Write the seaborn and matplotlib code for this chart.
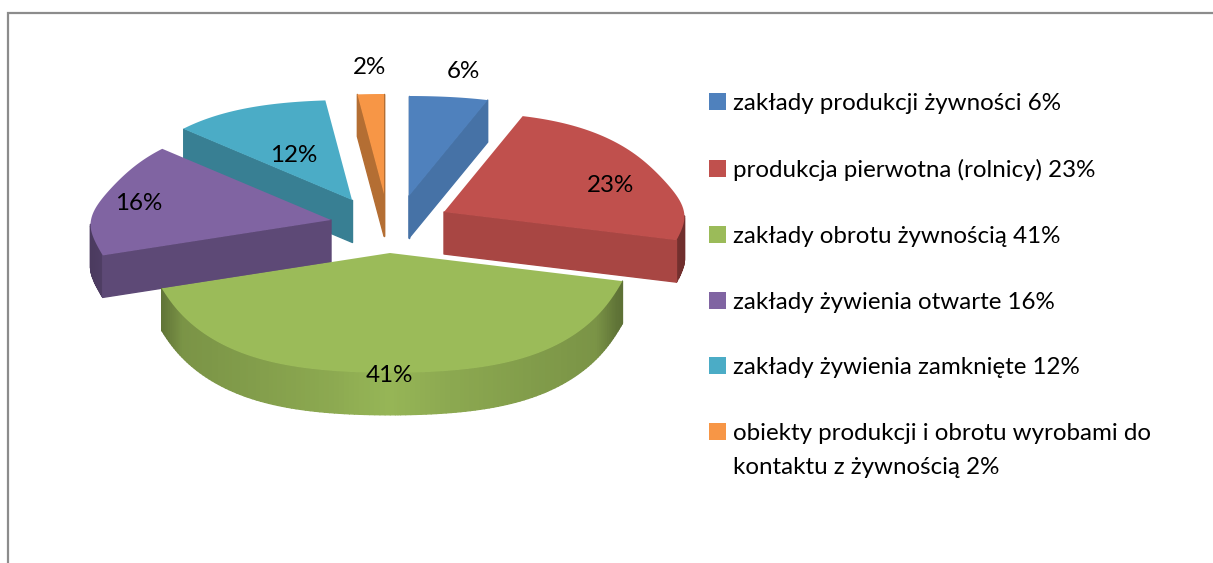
#!/usr/bin/env python3
# coding: utf-8

import numpy as np
import matplotlib
matplotlib.use('Agg')
import matplotlib.pyplot as plt
import seaborn as sns
from matplotlib.collections import PolyCollection
from matplotlib.patches import Patch, Polygon
from matplotlib.transforms import Affine2D

# data
labels = ['zakłady produkcji żywności 6%',
          'produkcja pierwotna (rolnicy) 23%',
          'zakłady obrotu żywnością 41%',
          'zakłady żywienia otwarte 16%',
          'zakłady żywienia zamknięte 12%',
          'obiekty produkcji i obrotu wyrobami do\nkontaktu z żywnością 2%']
shares = [6, 23, 41, 16, 12, 2]
hex_colors = ['#4F81BD', '#C0504D', '#9BBB59', '#8064A2', '#4BACC6', '#F79646']

# look of the fake 3d pie, all in pixels
apex = [(409, 196), (444, 212), (390, 253), (331, 220), (352, 200), (384, 194)]
side_shade = [0.88, 0.875, 0.8, 0.73, 0.74, 0.73]
pct_pos = [(463, 72), (610, 186), (389, 376), (139, 204), (294, 155), (369, 68)]
draw_order = [4, 5, 0, 3, 1, 2]
RX, RY, PERSP, DEPTH = 240, 109, 0.09, 42
FONT = 17.4


def project(pts, origin):
    """Tilts unit pie coordinates and moves them to the slice position"""
    x, y = pts[:, 0], pts[:, 1]
    w = 1 + PERSP * y
    squeeze = 0.965 + 0.035 * np.abs(x) ** 32
    bulge = np.where(y > 0, 1 + 0.1 * (1 - y ** 4),
                     1 + 0.25 * y ** 2 * (1 - y ** 2))
    return np.column_stack((origin[0] + RX * x * squeeze / w,
                            origin[1] - RY * y * bulge / w))


def rim_shade(x):
    return np.interp(abs(x), [0, 0.25, 0.6, 0.85, 0.95, 1],
                     [0.97, 0.9, 0.83, 0.79, 0.62, 0.58])


def wall_quads(unit, origin, color, shade):
    """Side faces of one slice that look towards the viewer"""
    top = project(unit, origin)
    quads, cols = [], []
    n = len(unit)
    area = np.sum(top[:, 0] * np.roll(top[:, 1], -1)
                  - np.roll(top[:, 0], -1) * top[:, 1])
    for i in range(n):
        j = (i + 1) % n
        d = top[j] - top[i]
        if np.allclose(d, 0):
            continue
        # outward normal, y grows downwards on screen
        normal_y = -d[0] if area > 0 else d[0]
        if normal_y <= 0:
            continue
        radial = min(np.hypot(*unit[i]), np.hypot(*unit[j])) < 1e-6
        m = shade if radial else rim_shade((unit[i, 0] + unit[j, 0]) / 2)
        quads.append([top[i], top[j], top[j] + (0, DEPTH), top[i] + (0, DEPTH)])
        cols.append(np.array(color) * m)
    return quads, cols


sns.set_theme(style='white')
plt.rcParams['font.family'] = ['Lato', 'DejaVu Sans']
palette = sns.color_palette(hex_colors)

fig, ax = plt.subplots(figsize=(12.13, 5.63), dpi=100)
fig.subplots_adjust(0, 0, 1, 1)

# the pie gives the slice outlines, they get tilted and extruded below
wedges, _ = ax.pie(shares, startangle=90, counterclock=False)
outlines = []
for wedge in wedges:
    poly = wedge.get_path().to_polygons(Affine2D().scale(2000))[0] / 2000
    outlines.append(poly)
    wedge.remove()

ax.set_aspect('auto')
ax.set_xlim(0, 1213)
ax.set_ylim(563, 0)
ax.axis('off')

for i in draw_order:
    quads, cols = wall_quads(outlines[i], apex[i], palette[i], side_shade[i])
    ax.add_collection(PolyCollection(quads, facecolors=cols, edgecolors=cols,
                                     linewidths=1.0))
    ax.add_patch(Polygon(project(outlines[i], apex[i]), closed=True,
                         facecolor=palette[i], edgecolor='none'))

for share, pos in zip(shares, pct_pos):
    ax.text(pos[0], pos[1], f'{share}%', fontsize=FONT, color='black',
            ha='center', va='center')

# frame of the chart area, open at the right and bottom
ax.plot([8, 8, 1213], [563, 13, 13], color='#8C8C8C', lw=1.6, clip_on=False,
        solid_joinstyle='miter')

# only the first line of a wrapped label goes in the legend, so that its
# square stays next to that line
handles = [Patch(facecolor=c, edgecolor='none') for c in palette]
first_lines = [s.split('\n')[0] for s in labels]
ax.legend(handles, first_lines, loc='upper left', bbox_to_anchor=(709, 93),
          bbox_transform=ax.transData, frameon=False, fontsize=FONT,
          labelcolor='black', handlelength=0.70, handleheight=0.70,
          handletextpad=0.29, labelspacing=1.855, borderpad=0, borderaxespad=0)
ax.text(733, 468, labels[-1].split('\n')[1], fontsize=FONT, color='black',
        ha='left', va='center')

fig.savefig('out.png', dpi=100)
